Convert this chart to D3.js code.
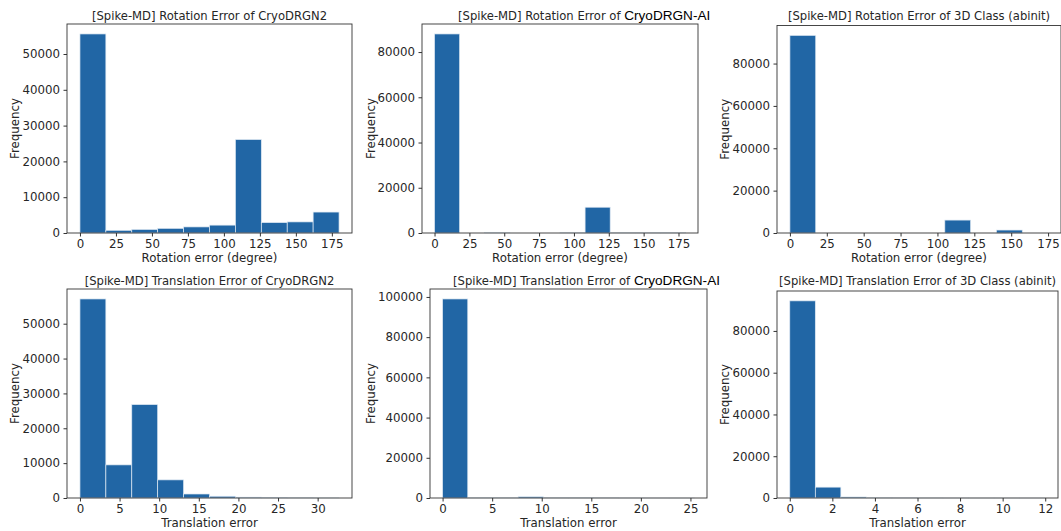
<!DOCTYPE html>
<html>
<head>
<meta charset="utf-8">
<script src="https://cdn.jsdelivr.net/npm/d3@7"></script>
<style>
    body { margin: 0; background: #fff; }
    svg { display: block; }
    .lbl { font-family: "DejaVu Sans", sans-serif; font-size: 11.8px; fill: #262626; }
    .ttl { font-family: "DejaVu Sans", sans-serif; font-size: 11.6px; fill: #262626; }
    .alt { font-family: "Liberation Sans", Arial, sans-serif; font-size: 13.6px; fill: #000; }
</style>
</head>
<body>
<svg id="chart" width="1061" height="531"></svg>
<script>
// histogram counts, 10 equal bins each
let rotCryoDRGN2 = [55600, 750, 1000, 1300, 1700, 2200, 26100, 2900, 3100, 5850];
let rotCryoDRGNAI = [88000, 0, 300, 0, 0, 300, 11400, 250, 200, 200];
let rot3DClass = [93300, 0, 0, 0, 0, 0, 6100, 0, 1400, 0];
let transCryoDRGN2 = [57100, 9500, 26800, 5200, 1150, 500, 250, 80, 40, 20];
let transCryoDRGNAI = [99000, 300, 300, 600, 300, 200, 50, 20, 10, 5];
let trans3DClass = [94400, 5200, 500, 300, 50, 20, 10, 5, 5, 2];

// upper end of the binned range (lower end is 0)
let binMax = [180, 180, 175, 32.7, 25.4, 12];

let rotTicks = [0, 25, 50, 75, 100, 125, 150, 175];
let transTicks30 = [0, 5, 10, 15, 20, 25, 30];
let transTicks25 = [0, 5, 10, 15, 20, 25];
let transTicks12 = [0, 2, 4, 6, 8, 10, 12];
let yTicks50k = [0, 10000, 20000, 30000, 40000, 50000];
let yTicks80k = [0, 20000, 40000, 60000, 80000];
let yTicks100k = [0, 20000, 40000, 60000, 80000, 100000];

let titlePrefix = ["[Spike-MD] Rotation Error of ", "[Spike-MD] Translation Error of "];
let methods = ["CryoDRGN2", "CryoDRGN-AI", "3D Class (abinit)"];
let xLabels = ["Rotation error (degree)", "Translation error"];

let panels = [
    {counts: rotCryoDRGN2, max: binMax[0], xt: rotTicks, yt: yTicks50k, row: 0, col: 0,
     box: [67, 352, 24, 233], ylx: 15},
    {counts: rotCryoDRGNAI, max: binMax[1], xt: rotTicks, yt: yTicks80k, row: 0, col: 1,
     box: [422, 698, 24, 233], ylx: 371, tx: 458},
    {counts: rot3DClass, max: binMax[2], xt: rotTicks, yt: yTicks80k, row: 0, col: 2,
     box: [777, 1061, 25.5, 233], ylx: 725},
    {counts: transCryoDRGN2, max: binMax[3], xt: transTicks30, yt: yTicks50k, row: 1, col: 0,
     box: [67, 352, 289, 498], ylx: 15},
    {counts: transCryoDRGNAI, max: binMax[4], xt: transTicks25, yt: yTicks100k, row: 1, col: 1,
     box: [430, 707, 289, 498], ylx: 371, tx: 453},
    {counts: trans3DClass, max: binMax[5], xt: transTicks12, yt: yTicks80k, row: 1, col: 2,
     box: [777, 1058, 291, 498], ylx: 725}
];

let svg = d3.select("#chart");
let barColor = "#2166a5";

function styleAxis(a) {
    a.select(".domain").remove();
    a.selectAll("line").attr("stroke", "#333");
    a.selectAll("text")
        .attr("font-family", "DejaVu Sans, sans-serif")
        .style("font-size", "11.8px")
        .attr("fill", "#262626");
}

panels.forEach(function (p) {
    let [x0, x1, y0, y1] = p.box;
    let n = p.counts.length;
    let w = p.max / n;
    let bins = p.counts.map((c, i) => ({a: i * w, b: (i + 1) * w, c: c}));

    let pad = p.max * 0.05;
    let x = d3.scaleLinear().domain([-pad, p.max + pad]).range([x0, x1]);
    let yMax = d3.max(p.counts) * 1.05;
    let y = d3.scaleLinear().domain([0, yMax]).range([y1, y0]);

    let g = svg.append("g");

    g.selectAll("rect.bar")
        .data(bins)
        .enter().append("rect")
        .attr("class", "bar")
        .attr("x", d => x(d.a))
        .attr("width", d => x(d.b) - x(d.a))
        .attr("y", d => y(d.c))
        .attr("height", d => y(0) - y(d.c))
        .attr("fill", barColor)
        .attr("stroke", "#dfe9f3")
        .attr("stroke-width", 0.7);

    // frame
    g.append("rect")
        .attr("x", x0).attr("y", y0)
        .attr("width", x1 - x0).attr("height", y1 - y0)
        .attr("fill", "none")
        .attr("stroke", "#333")
        .attr("stroke-width", 0.9);

    let xAxis = d3.axisBottom(x).tickValues(p.xt).tickSize(3.5).tickPadding(3.5)
        .tickFormat(d3.format("d"));
    g.append("g")
        .attr("transform", "translate(0," + y1 + ")")
        .call(xAxis)
        .call(styleAxis);

    let yAxis = d3.axisLeft(y).tickValues(p.yt).tickSize(3.5).tickPadding(3.5)
        .tickFormat(d3.format("d"));
    g.append("g")
        .attr("transform", "translate(" + x0 + ",0)")
        .call(yAxis)
        .call(styleAxis);

    // axis labels
    g.append("text")
        .attr("class", "lbl")
        .attr("x", (x0 + x1) / 2)
        .attr("y", y1 + 29)
        .attr("text-anchor", "middle")
        .text(xLabels[p.row]);

    g.append("text")
        .attr("class", "lbl")
        .attr("transform", "translate(" + (p.ylx + 4) + "," + ((y0 + y1) / 2) + ") rotate(-90)")
        .attr("text-anchor", "middle")
        .text("Frequency");

    // title
    let t = g.append("text")
        .attr("class", "ttl")
        .attr("y", p.row === 0 ? 20 : 285);
    if (p.tx) {
        t.attr("x", p.tx).attr("text-anchor", "start");
        t.append("tspan").text(titlePrefix[p.row]);
        t.append("tspan").attr("class", "alt").text(methods[p.col]);
    } else {
        t.attr("x", (x0 + x1) / 2).attr("text-anchor", "middle")
            .text(titlePrefix[p.row] + methods[p.col]);
    }
});
</script>
</body>
</html>
